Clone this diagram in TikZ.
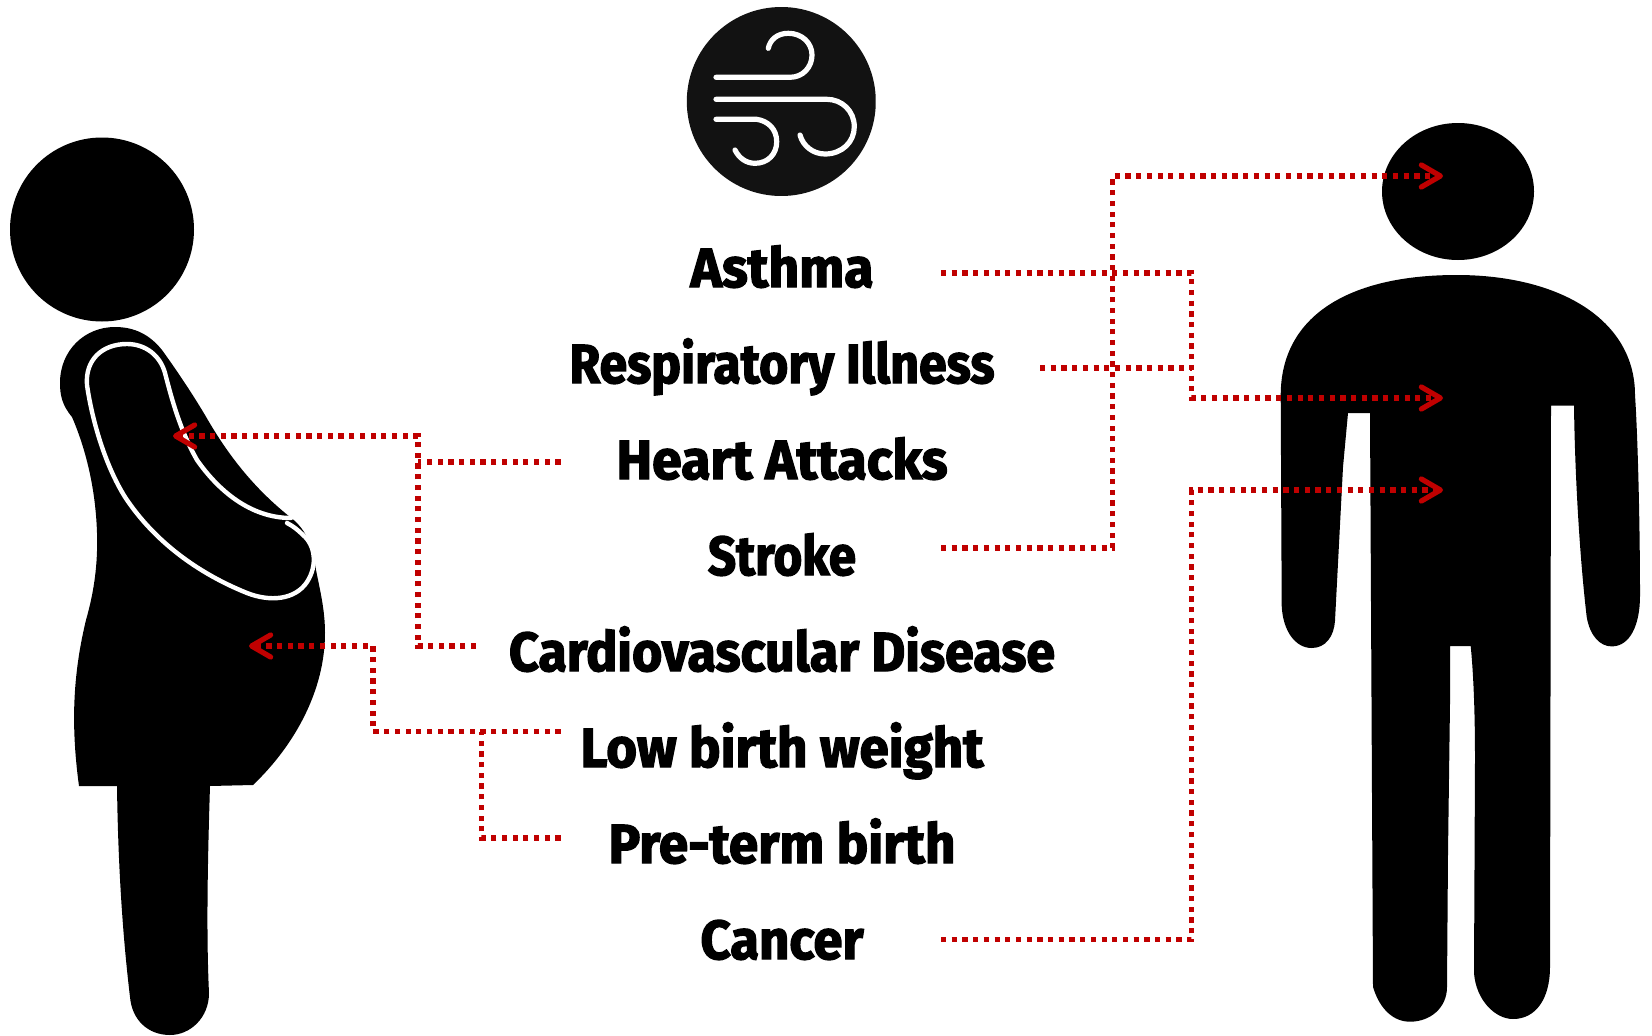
\documentclass[tikz,border=0pt]{standalone}
\usepackage{fontspec}
\setmainfont{Fira Sans}[BoldFeatures={FakeBold=2.5}]
\usetikzlibrary{arrows.meta}
\definecolor{linkred}{HTML}{C00000}
\newcommand{\fitlabel}[2]{\resizebox{#1pt}{\height}{\fontsize{55}{60}\selectfont\bfseries #2}}
\tikzset{
  silhouette/.style={fill=black,draw=none},
  bodyline/.style={draw=white,line width=4.4pt,line cap=round,line join=round},
  windline/.style={draw=white,line width=5.2pt,line cap=round,line join=round},
  disease/.style={anchor=base,inner sep=0pt,text=black},
  linkline/.style={draw=linkred,line width=5.6pt,dash pattern=on 5.2pt off 5.5pt},
  linkarrow/.style={linkline,-{Straight Barb[length=19pt,width=22pt,line width=5.2pt,round]}}
}
\begin{document}
\begin{tikzpicture}[x=1pt,y=-1pt]
\useasboundingbox[fill=white] (0,0) rectangle (1652,1036);

% Wind icon
\begin{scope}
\clip (680,0) rectangle (875.5,195.5);
\fill[fill=black!93] (781.3,101.5) circle (94.5);
\draw[windline] (716,77.3) -- (790,77.3) .. controls (803,77.3) and (812,67) .. (812,55) .. controls (812,43) and (802,33.3) .. (788.3,33.3) .. controls (777,33.3) and (770,40) .. (768.3,48.3);
\draw[windline] (716,99.3) -- (826.7,99.3) .. controls (842,99.3) and (854.3,111) .. (854.3,126.7) .. controls (854.3,142) and (842,154) .. (825,154) .. controls (813,154) and (803,146) .. (800,135);
\draw[windline] (716,119.3) -- (756.7,119.3) .. controls (768,121) and (776.7,129) .. (776.7,141.7) .. controls (776.7,154) and (768,163.3) .. (755,163.3) .. controls (746,163.3) and (739,158) .. (735,150);
\end{scope}

% Pregnant woman
\fill[silhouette] (102,229.5) circle (92);
\fill[silhouette] (253,785) -- (210,786) .. controls (208,850) and (206,930) .. (209,993) .. controls (209,1018) and (190,1035) .. (170,1035) .. controls (148,1035) and (132,1020) .. (130,997) .. controls (122,930) and (118,860) .. (117,786) -- (79,786) .. controls (70,720) and (74,670) .. (86,620) .. controls (96,585) and (100,550) .. (95,505) .. controls (91,470) and (82,440) .. (72,417) .. controls (62,405) and (60,395) .. (60,383) .. controls (60,350) and (85,327) .. (115,327) .. controls (135,327) and (150,335) .. (162,350) .. controls (175,368) and (190,390) .. (205,415) .. controls (225,450) and (250,485) .. (290,517) .. controls (305,528) and (313,545) .. (316,570) .. controls (320,590) and (325,610) .. (325,633) .. controls (325,690) and (295,745) .. (253,785) -- cycle;
\draw[bodyline] (291,518) .. controls (250,518) and (218,490) .. (197,460) .. controls (180,430) and (172,400) .. (165,373) .. controls (160,355) and (145,344) .. (127,344) .. controls (102,344) and (85,360) .. (87,385) .. controls (92,420) and (105,465) .. (125,497) .. controls (150,535) and (190,570) .. (247,593) .. controls (270,602) and (295,600) .. (307,582) .. controls (318,565) and (315,545) .. (303,535) .. controls (298,530) and (293,526) .. (287,523);

% Man
\fill[silhouette] (1458,191.5) ellipse [x radius=76,y radius=68.5];
\fill[silhouette] (1551,405.7) -- (1574,405.7) .. controls (1575,480) and (1580,560) .. (1586.7,617) .. controls (1590,636) and (1600,646.4) .. (1611.7,646.4) .. controls (1630,646.4) and (1640,625) .. (1640,595.7) .. controls (1640,530) and (1638,440) .. (1635,395) .. controls (1635,320) and (1560,275) .. (1456.7,275) .. controls (1350,275) and (1281,315) .. (1280.7,395) -- (1281.7,606) .. controls (1283,632) and (1296,648) .. (1311.7,648) .. controls (1326,648) and (1334,636) .. (1335,620.7) -- (1343,467) -- (1348,413) -- (1370,413) -- (1373,987) .. controls (1380,1010) and (1394,1021.7) .. (1410,1021.7) .. controls (1430,1021.7) and (1447,1008) .. (1447,987) -- (1448,853) -- (1450,703) -- (1450,646) -- (1470.7,646) .. controls (1474,680) and (1475,720) .. (1475,760) -- (1474,973) .. controls (1476,1000) and (1495,1019) .. (1513,1019) .. controls (1535,1019) and (1550,1000) .. (1550,966.7) -- cycle;

% Labels
\node[disease] (asthma) at (782,287) {\fitlabel{183}{Asthma}};
\node[disease] (resp) at (782,383) {\fitlabel{425}{Respiratory Illness}};
\node[disease] (heart) at (782,479) {\fitlabel{331}{Heart Attacks}};
\node[disease] (stroke) at (782,575) {\fitlabel{148}{Stroke}};
\node[disease] (cvd) at (782,671) {\fitlabel{546}{Cardiovascular Disease}};
\node[disease] (lbw) at (782,767) {\fitlabel{403}{Low birth weight}};
\node[disease] (ptb) at (782,863) {\fitlabel{347}{Pre-term birth}};
\node[disease] (cancer) at (782,959) {\fitlabel{163}{Cancer}};

% Connector ends
\coordinate (asthmaOut) at (941,273);
\coordinate (respOut) at (1040,368);
\coordinate (strokeOut) at (941,548);
\coordinate (cancerOut) at (941,939.5);
\coordinate (heartOut) at (560.5,462);
\coordinate (cvdOut) at (476,646);
\coordinate (lbwOut) at (560.5,731.5);
\coordinate (ptbOut) at (560.5,838);
\coordinate (manHead) at (1443,176);
\coordinate (manChest) at (1443,398);
\coordinate (manBelly) at (1443,490);
\coordinate (heartPt) at (173,436);
\coordinate (wombPt) at (249,646);
\coordinate (busA) at (1191.6,273);
\coordinate (busB) at (1191.6,368);
\coordinate (busC) at (418,462);
\coordinate (busD) at (481.5,731.5);

% Connectors
\draw[linkarrow] (strokeOut) -- (1112.6,548) -- (1112.6,176) -- (manHead);
\draw[linkarrow] (asthmaOut) -- (busA) -- (1191.6,398) -- (manChest);
\draw[linkline] (respOut) -- (busB);
\draw[linkarrow] (cancerOut) -- (1191.6,939.5) -- (1191.6,490) -- (manBelly);
\draw[linkarrow] (cvdOut) -- (418,646) -- (418,436) -- (heartPt);
\draw[linkline] (heartOut) -- (busC);
\draw[linkarrow] (lbwOut) -- (373,731.5) -- (373,646) -- (wombPt);
\draw[linkline] (ptbOut) -- (481.5,838) -- (busD);
\end{tikzpicture}
\end{document}
